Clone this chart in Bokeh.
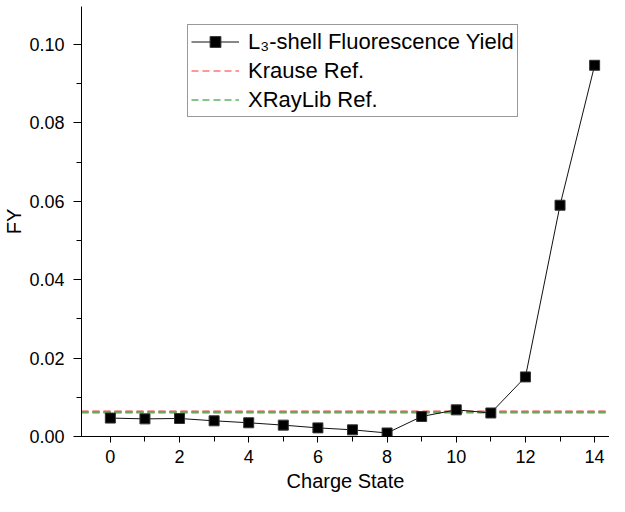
from bokeh.plotting import figure
from bokeh.models import SingleIntervalTicker, NumeralTickFormatter, Legend, LegendItem
from bokeh.embed import file_html
from bokeh.resources import INLINE

charge = [0, 1, 2, 3, 4, 5, 6, 7, 8, 9, 10, 11, 12, 13, 14]
fy = [0.0047, 0.0045, 0.0046, 0.0040, 0.0035, 0.0029, 0.0022, 0.0017, 0.0009,
      0.0051, 0.0068, 0.0060, 0.0152, 0.0590, 0.0947]
krause_ref = 0.0064
xraylib_ref = 0.0061

x_min, x_max = -0.834, 14.43
y_min, y_max = 0.0, 0.1097

FONT = "Liberation Sans"

p = figure(width=609, height=496, output_backend="svg", toolbar_location=None,
           x_range=(x_min, x_max), y_range=(y_min, y_max),
           min_border_left=78, min_border_right=0, min_border_top=6, min_border_bottom=60)
p.outline_line_color = None
p.xgrid.visible = False
p.ygrid.visible = False
p.background_fill_color = "white"
p.border_fill_color = "white"

# thin pure-colour reference lines (used by the legend)
r_k = p.line([x_min, x_max], [krause_ref, krause_ref], line_color="#ff3030",
             line_width=1, line_dash="7 4")
r_x = p.line([x_min, x_max], [xraylib_ref, xraylib_ref], line_color="#108a10",
             line_width=1, line_dash="7 4")
# thicker blended reference lines drawn on top
p.line([x_min, x_max], [krause_ref, krause_ref], line_color="#e85a50",
       line_width=2, line_dash="7 4")
p.line([x_min, x_max], [xraylib_ref, xraylib_ref], line_color="#6aa860",
       line_width=2, line_dash="7 4")

r_l = p.line(charge, fy, line_color="#111111", line_width=1)
r_m = p.scatter(charge, fy, marker="square", size=10, fill_color="black", line_color="#333333")

legend = Legend(items=[
    LegendItem(label="L\u2083-shell Fluorescence Yield", renderers=[r_l, r_m]),
    LegendItem(label="Krause Ref.", renderers=[r_k]),
    LegendItem(label="XRayLib Ref.", renderers=[r_x]),
], location=(106, 319))
legend.label_text_font = FONT
legend.label_text_font_size = "22px"
legend.label_text_color = "black"
legend.border_line_color = "#333333"
legend.border_line_width = 1
legend.background_fill_alpha = 1
legend.glyph_width = 48
legend.glyph_height = 27
legend.label_height = 27
legend.spacing = 2
legend.padding = 3
legend.margin = 0
legend.label_standoff = 9
p.add_layout(legend, "center")

for ax in (p.xaxis[0], p.yaxis[0]):
    ax.axis_line_color = "black"
    ax.axis_line_width = 1
    ax.major_tick_line_color = "black"
    ax.minor_tick_line_color = "black"
    ax.major_tick_in = 0
    ax.minor_tick_in = 0
    ax.major_label_text_font = FONT
    ax.major_label_text_font_size = "18px"
    ax.major_label_text_color = "black"
    ax.axis_label_text_font = FONT
    ax.axis_label_text_font_size = "20px"
    ax.axis_label_text_font_style = "normal"
    ax.axis_label_text_color = "black"

p.xaxis.ticker = SingleIntervalTicker(interval=2, num_minor_ticks=2)
p.yaxis.ticker = SingleIntervalTicker(interval=0.02, num_minor_ticks=2)
p.yaxis.formatter = NumeralTickFormatter(format="0.00")
p.xaxis.major_tick_out = 6
p.xaxis.minor_tick_out = 5
p.yaxis.major_tick_out = 8
p.yaxis.minor_tick_out = 5
p.xaxis.major_label_standoff = 7
p.yaxis.major_label_standoff = 9
p.xaxis.axis_label = "Charge State"
p.yaxis.axis_label = "FY"
p.xaxis.axis_label_standoff = 4
p.yaxis.axis_label_standoff = 1

open("out.html", "w").write(file_html(p, INLINE))
